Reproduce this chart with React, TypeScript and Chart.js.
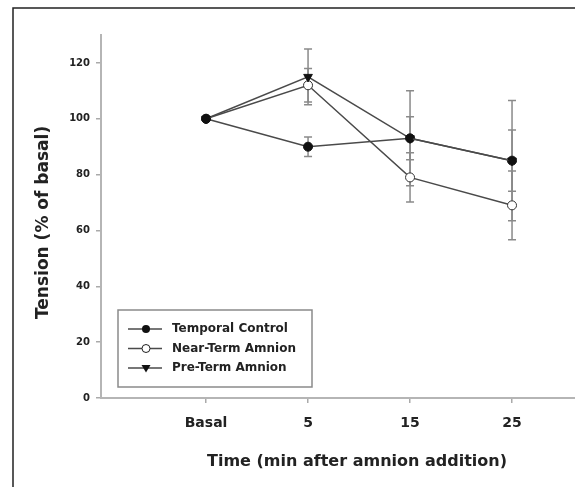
import React, { useEffect, useRef } from "react";
import { Chart, registerables } from "chart.js";
Chart.register(...registerables);

const categories = ["Basal", "5", "15", "25"];
const yTicks = [0, 20, 40, 60, 80, 100, 120];
const seriesNames = ["Temporal Control", "Near-Term Amnion", "Pre-Term Amnion"];
const temporalControl = [100, 90, 93, 85];
const temporalControlErr = [0, 3.5, 7.7, 11];
const nearTerm = [100, 112, 79, 69];
const nearTermErr = [0, 6, 8.8, 12.3];
const preTerm = [100, 115, 93, 85];
const preTermErr = [0, 10, 17, 21.5];

const LINE = "#4a4a4a";
const TEXT = "#222";
const FONT = "'DejaVu Sans', sans-serif";

const toPts = (arr: number[]) => arr.map((v, i) => ({ x: i, y: v }));

function drawMarker(ctx: CanvasRenderingContext2D, kind: string, x: number, y: number) {
  ctx.save();
  ctx.lineWidth = 1;
  ctx.strokeStyle = "#222";
  if (kind === "filled") {
    ctx.fillStyle = "#111";
    ctx.beginPath();
    ctx.arc(x, y, 4, 0, Math.PI * 2);
    ctx.fill();
  } else if (kind === "open") {
    ctx.fillStyle = "#fff";
    ctx.beginPath();
    ctx.arc(x, y, 4, 0, Math.PI * 2);
    ctx.fill();
    ctx.stroke();
  } else {
    ctx.fillStyle = "#111";
    ctx.beginPath();
    ctx.moveTo(x - 4.5, y - 3);
    ctx.lineTo(x + 4.5, y - 3);
    ctx.lineTo(x, y + 4.5);
    ctx.closePath();
    ctx.fill();
  }
  ctx.restore();
}

const errorBarPlugin = {
  id: "errorBars",
  beforeDatasetsDraw(chart: any) {
    const { ctx } = chart;
    const xs = chart.scales.x;
    const ys = chart.scales.y;
    const sets = [
      [temporalControl, temporalControlErr],
      [nearTerm, nearTermErr],
      [preTerm, preTermErr],
    ];
    ctx.save();
    ctx.strokeStyle = "#8a8a8a";
    ctx.lineWidth = 1.5;
    sets.forEach(([vals, errs]) => {
      vals.forEach((v, i) => {
        const e = errs[i];
        if (!e) return;
        const px = xs.getPixelForValue(i);
        const top = ys.getPixelForValue(v + e);
        const bot = ys.getPixelForValue(v - e);
        ctx.beginPath();
        ctx.moveTo(px, top);
        ctx.lineTo(px, bot);
        ctx.moveTo(px - 4, top);
        ctx.lineTo(px + 4, top);
        ctx.moveTo(px - 4, bot);
        ctx.lineTo(px + 4, bot);
        ctx.stroke();
      });
    });
    ctx.restore();
  },
};

const boxLegendPlugin = {
  id: "boxLegend",
  afterDatasetsDraw(chart: any) {
    const { ctx, chartArea } = chart;
    const left = chartArea.left + 17;
    const bottom = chartArea.bottom - 11;
    const w = 194;
    const h = 77;
    const top = bottom - h;
    ctx.save();
    ctx.fillStyle = "#fff";
    ctx.fillRect(left, top, w, h);
    ctx.strokeStyle = "#8a8a8a";
    ctx.lineWidth = 1.5;
    ctx.strokeRect(left, top, w, h);
    const kinds = ["filled", "open", "triangle"];
    ctx.font = `bold 12px ${FONT}`;
    ctx.textBaseline = "middle";
    ctx.textAlign = "left";
    seriesNames.forEach((name, i) => {
      const cy = top + 19 + i * 19.5;
      ctx.strokeStyle = LINE;
      ctx.lineWidth = 1.5;
      ctx.beginPath();
      ctx.moveTo(left + 10, cy);
      ctx.lineTo(left + 44, cy);
      ctx.stroke();
      drawMarker(ctx, kinds[i], left + 28, cy);
      ctx.fillStyle = TEXT;
      ctx.fillText(name, left + 54, cy);
    });
    ctx.restore();
  },
  afterDraw(chart: any) {
    const { ctx } = chart;
    ctx.save();
    ctx.strokeStyle = "#222";
    ctx.lineWidth = 1.5;
    ctx.beginPath();
    ctx.moveTo(13, 487);
    ctx.lineTo(13, 8);
    ctx.lineTo(620, 8);
    ctx.stroke();
    ctx.restore();
  },
};

export default function App() {
  const ref = useRef<HTMLCanvasElement>(null);
  useEffect(() => {
    if (!ref.current) return;
    const chart = new Chart(ref.current, {
      type: "line",
      data: {
        datasets: [
          {
            label: seriesNames[0],
            data: toPts(temporalControl),
            borderColor: LINE,
            borderWidth: 1.5,
            pointStyle: "circle",
            pointRadius: 4.5,
            pointBackgroundColor: "#111",
            pointBorderColor: "#111",
            pointBorderWidth: 1,
            order: 1,
          },
          {
            label: seriesNames[1],
            data: toPts(nearTerm),
            borderColor: LINE,
            borderWidth: 1.5,
            pointStyle: "circle",
            pointRadius: 4.5,
            pointBackgroundColor: "#fff",
            pointBorderColor: "#333",
            pointBorderWidth: 1,
            order: 2,
          },
          {
            label: seriesNames[2],
            data: toPts(preTerm),
            borderColor: LINE,
            borderWidth: 1.5,
            pointStyle: "triangle",
            pointRotation: 180,
            pointRadius: 5,
            pointBackgroundColor: "#111",
            pointBorderColor: "#111",
            pointBorderWidth: 1,
            order: 0,
          },
        ],
      },
      options: {
        responsive: false,
        animation: false,
        events: [],
        layout: { padding: { top: 35, left: 0, right: 0, bottom: 0 } },
        plugins: {
          legend: { display: false },
          tooltip: { enabled: false },
          title: { display: false },
        },
        scales: {
          x: {
            type: "linear",
            min: -1.03,
            max: 3.99,
            afterBuildTicks: (s: any) => {
              s.ticks = categories.map((_, i) => ({ value: i }));
            },
            afterFit: (s: any) => {
              s.height = 89;
            },
            ticks: {
              autoSkip: false,
              maxRotation: 0,
              padding: 12,
              color: TEXT,
              font: { family: FONT, weight: "bold", size: 14 },
              callback: (v: any) => categories[v] ?? "",
            },
            grid: { drawOnChartArea: false, tickLength: 5, color: "#aaa", lineWidth: 1.5 },
            border: { color: "#b5b5b5", width: 2 },
            title: {
              display: true,
              text: "Time (min after amnion addition)",
              color: TEXT,
              font: { family: FONT, weight: "bold", size: 16 },
              padding: { top: 0, bottom: 16 },
            },
          },
          y: {
            type: "linear",
            min: 0,
            max: 130,
            afterBuildTicks: (s: any) => {
              s.ticks = yTicks.map((v) => ({ value: v }));
            },
            afterFit: (s: any) => {
              s.width = 101;
            },
            ticks: {
              padding: 6,
              color: TEXT,
              font: { family: FONT, weight: "bold", size: 10 },
            },
            grid: { drawOnChartArea: false, tickLength: 5, color: "#aaa", lineWidth: 1.5 },
            border: { color: "#b5b5b5", width: 2 },
            title: {
              display: true,
              text: "Tension (% of basal)  ",
              color: TEXT,
              font: { family: FONT, weight: "bold", size: 17 },
              padding: { top: 33, bottom: 0 },
            },
          },
        },
      },
      plugins: [errorBarPlugin, boxLegendPlugin],
    } as any);
    return () => chart.destroy();
  }, []);
  return (
    <div
      style={{
        position: "fixed",
        left: 0,
        top: 0,
        width: 575,
        height: 487,
        overflow: "hidden",
        background: "#fff",
      }}
    >
      <canvas ref={ref} width={619} height={487} style={{ display: "block" }} />
    </div>
  );
}
